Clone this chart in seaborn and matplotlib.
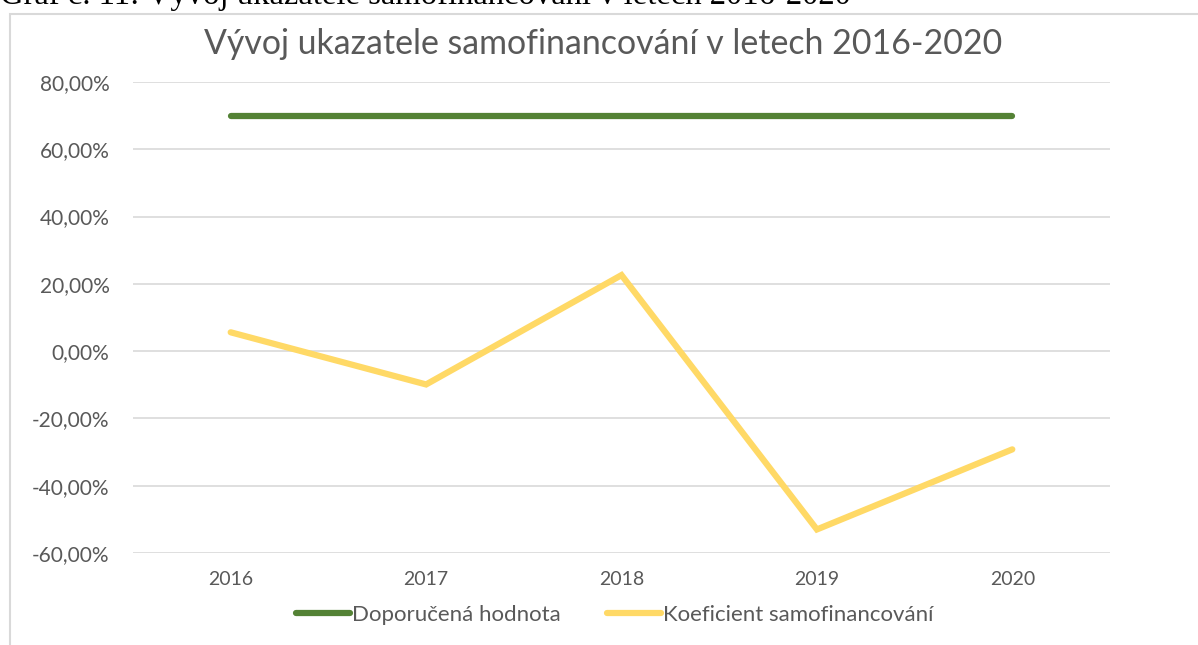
import pandas as pd
import matplotlib.pyplot as plt
import seaborn as sns
from matplotlib.patches import Rectangle
from matplotlib.ticker import FuncFormatter

# data
years = ["2016", "2017", "2018", "2019", "2020"]
doporucena = [0.70, 0.70, 0.70, 0.70, 0.70]
koeficient = [0.056, -0.099, 0.226, -0.530, -0.292]
series_names = ["Doporučená hodnota", "Koeficient samofinancování"]
colors = ["#548235", "#FFD966"]

df = pd.DataFrame({
    "rok": years * 2,
    "hodnota": doporucena + koeficient,
    "serie": [series_names[0]] * len(years) + [series_names[1]] * len(years),
})

sns.set_theme(style="white")
plt.rcParams['font.family'] = ['Lato', 'DejaVu Sans']

fig = plt.figure(figsize=(11.98, 6.45), dpi=100)
ax = fig.add_axes([133 / 1198, 1 - 553 / 645, (1110 - 133) / 1198, (553 - 82) / 645])

sns.lineplot(data=df, x="rok", y="hodnota", hue="serie", palette=colors,
             linewidth=4.5, ax=ax, sort=False, legend=False)
for ln in ax.lines:
    ln.set_solid_capstyle("round")
    ln.set_solid_joinstyle("miter")

ax.set_xlim(-0.5, 4.5)
ax.set_ylim(-0.6, 0.8)
ax.set_yticks([-0.6, -0.4, -0.2, 0.0, 0.2, 0.4, 0.6, 0.8])
ax.yaxis.set_major_formatter(FuncFormatter(lambda v, p: f"{v * 100:.2f}%".replace(".", ",")))
ax.grid(axis="y", color="#D9D9D9", linewidth=1.2)
ax.set_axisbelow(True)
for s in ax.spines.values():
    s.set_visible(False)
ax.tick_params(axis="both", length=0, colors="#595959")
ax.tick_params(axis="y", pad=17, labelsize=15)
ax.tick_params(axis="x", pad=13, labelsize=14)
ax.set_xlabel("")
ax.set_ylabel("")

# legend
handles = [plt.Line2D([0], [0], color=c, linewidth=4.5, solid_capstyle="round") for c in colors]
fig.legend(handles, series_names, loc="center", bbox_to_anchor=(615 / 1198, 1 - 615 / 645),
           ncol=2, frameon=False, fontsize=16, labelcolor="#595959", handlelength=2.4,
           handletextpad=0.1, columnspacing=2.1)

# title inside chart
fig.text(603 / 1198, 1 - 44 / 645, "Vývoj ukazatele samofinancování v letech 2016-2020",
         ha="center", va="center", fontsize=24.4, color="#595959")

# chart area border (partly outside the image)
fig.patches.append(Rectangle((10 / 1198, -0.1), 1.2, 1 - 14 / 645 + 0.1, transform=fig.transFigure,
                             fill=False, edgecolor="#D9D9D9", linewidth=1.5))

# caption of the document, cut off at the top as in the reference
fig.text(0, 1 - 4 / 645, "Graf č. 11: Vývoj ukazatele samofinancování v letech 2016-2020",
         ha="left", va="baseline", fontsize=23.5, family=["Liberation Serif"], color="black")

plt.savefig("out.png", dpi=100)
